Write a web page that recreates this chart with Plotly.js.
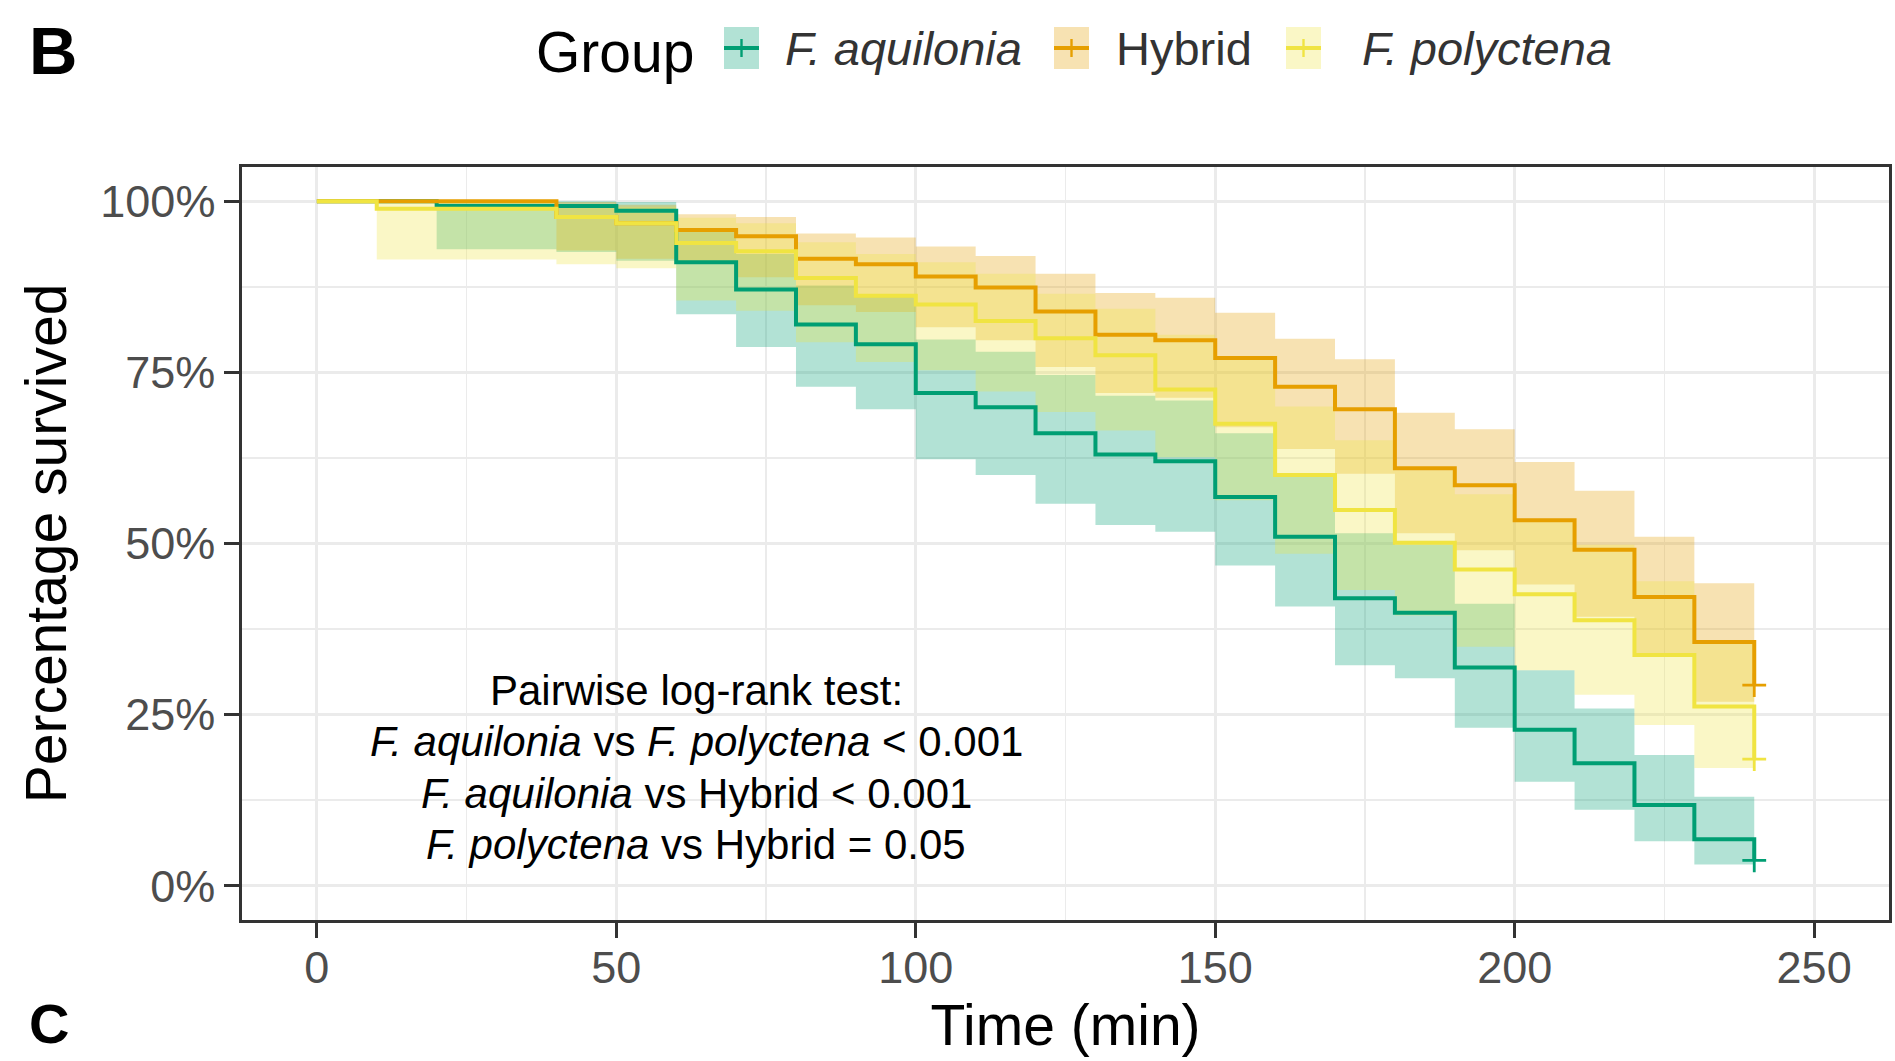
<!DOCTYPE html>
<html>
<head>
<meta charset="utf-8">
<script src="https://cdn.plot.ly/plotly-3.0.1.min.js"></script>
<style>
html, body { margin: 0; padding: 0; background: #ffffff; }
#chart { width: 1895px; height: 1061px; }
</style>
</head>
<body>
<div id="chart"></div>
<script>
// ---------------- data ----------------
const time = [0, 10, 20, 30, 40, 50, 60, 70, 80, 90, 100, 110, 120, 130, 140, 150, 160, 170, 180, 190, 200, 210, 220, 230, 240];

const aquiloniaSurv  = [100, 100, 99.3, 99.3, 99.3, 98.6, 91.1, 87.1, 82.0, 79.1, 72.0, 69.9, 66.1, 63.0, 62.0, 56.8, 51.0, 42.0, 39.9, 31.9, 22.8, 17.9, 11.8, 6.8, 3.7];
const aquiloniaLower = [100, 100, 93.0, 93.0, 92.6, 91.3, 83.5, 78.7, 72.9, 69.6, 62.3, 60.0, 55.8, 52.7, 51.7, 46.8, 40.8, 32.2, 30.3, 23.1, 15.2, 11.1, 6.5, 3.1, 1.2];
const aquiloniaUpper = [100, 100, 100, 100, 100, 99.9, 95.5, 92.3, 87.7, 86.0, 79.8, 78.0, 74.6, 71.6, 70.9, 66.1, 59.9, 51.5, 49.8, 41.2, 31.5, 25.9, 19.1, 13.0, 9.5];

const hybridSurv  = [100, 100, 100, 100, 97.7, 96.8, 95.8, 94.9, 91.6, 90.8, 89.0, 87.4, 83.9, 80.5, 79.7, 77.1, 72.9, 69.6, 61.0, 58.5, 53.4, 49.1, 42.2, 35.6, 29.3];
const hybridLower = [100, 100, 100, 100, 92.8, 91.6, 91.1, 88.9, 84.8, 83.8, 81.6, 79.7, 75.8, 72.0, 71.3, 67.0, 63.8, 60.2, 51.5, 49.0, 44.0, 39.3, 33.7, 26.9, 20.5];
const hybridUpper = [100, 100, 100, 100, 99.9, 99.5, 98.1, 97.7, 95.3, 94.7, 93.4, 92.0, 89.4, 86.6, 85.9, 83.7, 79.9, 76.9, 69.1, 66.7, 61.9, 57.7, 51.0, 44.2, 38.5];

const polyctenaSurv  = [100, 98.9, 98.9, 98.9, 97.7, 96.8, 93.9, 92.7, 88.8, 86.2, 84.9, 82.5, 80.0, 77.5, 72.5, 67.5, 60.0, 54.9, 50.1, 46.2, 42.6, 38.8, 33.7, 26.2, 18.5];
const polyctenaLower = [100, 91.5, 91.5, 91.5, 90.8, 90.2, 85.5, 84.0, 79.4, 76.5, 75.3, 72.2, 69.2, 66.5, 62.6, 56.3, 48.5, 43.2, 39.5, 34.9, 31.5, 27.9, 23.5, 17.2, 10.5];
const polyctenaUpper = [100, 99.9, 99.9, 99.9, 99.6, 99.2, 97.6, 96.8, 94.0, 92.3, 91.1, 89.4, 86.5, 84.3, 80.5, 76.8, 70.0, 65.1, 60.7, 57.2, 53.5, 49.8, 44.5, 35.8, 28.5];

const groupNames  = ['F. aquilonia', 'Hybrid', 'F. polyctena'];
const groupLabels = ['<i>F. aquilonia</i>', 'Hybrid', '<i>F. polyctena</i>'];
const legendTitle = 'Group';

const xTickVals = [0, 50, 100, 150, 200, 250];
const xTickText = ['0', '50', '100', '150', '200', '250'];
const yTickVals = [0, 25, 50, 75, 100];
const yTickText = ['0%', '25%', '50%', '75%', '100%'];

const xTitle = 'Time (min)';
const yTitle = 'Percentage survived';
const testLines = [
  'Pairwise log-rank test:',
  '<i>F. aquilonia</i> vs <i>F. polyctena</i> &lt; 0.001',
  '<i>F. aquilonia</i> vs Hybrid &lt; 0.001',
  '<i>F. polyctena</i> vs Hybrid = 0.05'
];

// ---------------- styling ----------------
const lineColors = ['#009E73', '#E69F00', '#F0E442'];
const fillColors = ['rgba(0,158,115,0.30)', 'rgba(230,159,0,0.30)', 'rgba(240,228,66,0.30)'];
const FONT = 'Liberation Sans, Arial, Helvetica, sans-serif';

const series = [
  { surv: aquiloniaSurv, lower: aquiloniaLower, upper: aquiloniaUpper },
  { surv: hybridSurv,    lower: hybridLower,    upper: hybridUpper },
  { surv: polyctenaSurv, lower: polyctenaLower, upper: polyctenaUpper }
];

const W = 1895, H = 1061;
const M = { l: 242, r: 6, t: 167, b: 141 };
const PW = W - M.l - M.r, PH = H - M.t - M.b;
const px = v => (v - M.l) / PW;          // pixel x -> paper x
const py = v => (H - M.b - v) / PH;      // pixel y -> paper y

const traces = [];
// confidence bands first
series.forEach((s, i) => {
  traces.push({
    x: time, y: s.lower, type: 'scatter', mode: 'lines',
    line: { shape: 'hv', width: 0, color: fillColors[i] },
    hoverinfo: 'skip', showlegend: false
  });
  traces.push({
    x: time, y: s.upper, type: 'scatter', mode: 'lines',
    line: { shape: 'hv', width: 0, color: fillColors[i] },
    fill: 'tonexty', fillcolor: fillColors[i],
    hoverinfo: 'skip', showlegend: false
  });
});
// survival step curves
series.forEach((s, i) => {
  traces.push({
    x: time, y: s.surv, type: 'scatter', mode: 'lines', name: groupNames[i],
    line: { shape: 'hv', width: 4, color: lineColors[i] },
    showlegend: false
  });
});
// censoring marks at the final time
series.forEach((s, i) => {
  const n = time.length - 1;
  traces.push({
    x: [time[n]], y: [s.surv[n]], type: 'scatter', mode: 'markers',
    marker: { symbol: 'cross-thin', size: 17, line: { width: 2.8, color: lineColors[i] }, color: lineColors[i] },
    hoverinfo: 'skip', showlegend: false
  });
});

// ---------------- legend (drawn manually) ----------------
const shapes = [];
const annotations = [];
const keyX = [724, 1054, 1286];
const textX = [783, 1114, 1360];
const keyW = 35, keyTop = 27, keyBot = 69, keyMid = 48;
groupNames.forEach((g, i) => {
  shapes.push({ type: 'rect', xref: 'paper', yref: 'paper',
    x0: px(keyX[i]), x1: px(keyX[i] + keyW), y0: py(keyBot), y1: py(keyTop),
    fillcolor: fillColors[i], line: { width: 0 }, layer: 'above' });
  shapes.push({ type: 'line', xref: 'paper', yref: 'paper',
    x0: px(keyX[i]), x1: px(keyX[i] + keyW), y0: py(keyMid), y1: py(keyMid),
    line: { width: 4, color: lineColors[i] }, layer: 'above' });
  shapes.push({ type: 'line', xref: 'paper', yref: 'paper',
    x0: px(keyX[i] + keyW / 2), x1: px(keyX[i] + keyW / 2), y0: py(keyMid + 9), y1: py(keyMid - 9),
    line: { width: 2.4, color: lineColors[i] }, layer: 'above' });
  annotations.push({ xref: 'paper', yref: 'paper', x: px(textX[i]), y: py(49),
    xanchor: 'left', yanchor: 'middle', showarrow: false, text: groupLabels[i],
    font: { family: FONT, size: 47, color: '#333333' } });
});
annotations.push({ xref: 'paper', yref: 'paper', x: px(534), y: py(52),
  xanchor: 'left', yanchor: 'middle', showarrow: false, text: legendTitle,
  font: { family: FONT, size: 57, color: '#000000' } });

// panel tags
annotations.push({ xref: 'paper', yref: 'paper', x: px(27), y: py(51),
  xanchor: 'left', yanchor: 'middle', showarrow: false, text: '<b>B</b>',
  font: { family: FONT, size: 67, color: '#000000' } });
annotations.push({ xref: 'paper', yref: 'paper', x: px(27), y: py(1024),
  xanchor: 'left', yanchor: 'middle', showarrow: false, text: '<b>C</b>',
  font: { family: FONT, size: 56, color: '#000000' } });

// test annotation
const testY = [690, 741, 793, 844];
testLines.forEach((t, k) => {
  annotations.push({ xref: 'paper', yref: 'paper', x: px(696), y: py(testY[k]),
    xanchor: 'center', yanchor: 'middle', showarrow: false, text: t,
    font: { family: FONT, size: 42, color: '#000000' } });
});

const layout = {
  width: W, height: H, autosize: false,
  margin: M,
  paper_bgcolor: '#ffffff', plot_bgcolor: '#ffffff',
  font: { family: FONT },
  showlegend: false,
  xaxis: {
    range: [-12.5, 262.5], tickmode: 'array', tickvals: xTickVals, ticktext: xTickText,
    showgrid: true, gridcolor: '#ebebeb', gridwidth: 3.2, zeroline: false,
    minor: { dtick: 25, tick0: 0, showgrid: true, gridcolor: '#ebebeb', gridwidth: 1.6, ticklen: 0 },
    showline: true, linecolor: '#333333', linewidth: 2.6, mirror: true,
    ticks: 'outside', ticklen: 15, tickwidth: 3, tickcolor: '#333333',
    ticklabelstandoff: -9,
    tickfont: { family: FONT, size: 45, color: '#4d4d4d' },
    title: { text: xTitle, font: { family: FONT, size: 57, color: '#000000' }, standoff: 14 }
  },
  yaxis: {
    range: [-5, 105], tickmode: 'array', tickvals: yTickVals, ticktext: yTickText,
    showgrid: true, gridcolor: '#ebebeb', gridwidth: 3.2, zeroline: false,
    minor: { dtick: 12.5, tick0: 0, showgrid: true, gridcolor: '#ebebeb', gridwidth: 1.6, ticklen: 0 },
    showline: true, linecolor: '#333333', linewidth: 2.6, mirror: true,
    ticks: 'outside', ticklen: 15, tickwidth: 3, tickcolor: '#333333',
    tickfont: { family: FONT, size: 45, color: '#4d4d4d' },
    title: { text: yTitle, font: { family: FONT, size: 57, color: '#000000' }, standoff: 16 }
  },
  shapes: shapes,
  annotations: annotations
};

Plotly.newPlot('chart', traces, layout, { displayModeBar: false, staticPlot: true });
</script>
</body>
</html>
